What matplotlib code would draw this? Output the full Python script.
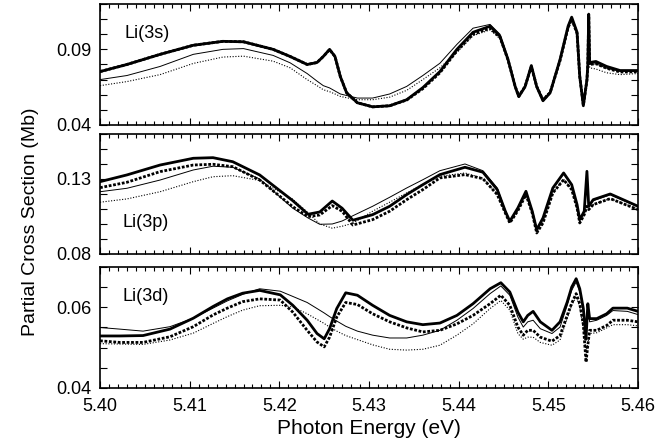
import numpy as np
import matplotlib.pyplot as plt
from matplotlib.ticker import MultipleLocator, FixedLocator

plt.rcParams['font.family'] = ['Liberation Sans', 'DejaVu Sans']

# ---- Li(3s) ----
e_3s = [5.4000, 5.4030, 5.4067, 5.4104, 5.4137, 5.4160, 5.4193, 5.4212, 5.4231, 5.4242,
        5.4249, 5.4256, 5.4262, 5.4268, 5.4275, 5.4287, 5.4304, 5.4323, 5.4342, 5.4360,
        5.4379, 5.4398, 5.4416, 5.4435, 5.4446, 5.4455, 5.4463, 5.4467, 5.4474, 5.4481,
        5.4487, 5.4494, 5.4502, 5.4513, 5.4522, 5.4526, 5.4532, 5.4535, 5.4539, 5.4543,
        5.4544, 5.4545, 5.4546, 5.4553, 5.4565, 5.4580, 5.4600]
s_thick = [0.0753, 0.0800, 0.0867, 0.0927, 0.0953, 0.0950, 0.0900, 0.0853, 0.0800, 0.0813,
           0.0853, 0.0900, 0.0853, 0.0720, 0.0613, 0.0547, 0.0520, 0.0527, 0.0567, 0.0647,
           0.0753, 0.0900, 0.1013, 0.1053, 0.0987, 0.0833, 0.0653, 0.0587, 0.0653, 0.0793,
           0.0653, 0.0560, 0.0613, 0.0833, 0.1053, 0.1113, 0.1013, 0.0720, 0.0527, 0.0700,
           0.0800, 0.1133, 0.0813, 0.0820, 0.0787, 0.0760, 0.0760]
s_thin = [0.0700, 0.0727, 0.0787, 0.0867, 0.0900, 0.0905, 0.0860, 0.0811, 0.0740, 0.0690,
          0.0660, 0.0645, 0.0625, 0.0605, 0.0595, 0.0578, 0.0578, 0.0605, 0.0655, 0.0727,
          0.0808, 0.0933, 0.1040, 0.1065, 0.1000, 0.0840, 0.0660, 0.0595, 0.0655, 0.0790,
          0.0658, 0.0567, 0.0618, 0.0830, 0.1045, 0.1105, 0.1008, 0.0725, 0.0535, 0.0700,
          0.0790, 0.1100, 0.0800, 0.0805, 0.0775, 0.0755, 0.0755]
s_thindot = [0.0660, 0.0687, 0.0733, 0.0807, 0.0849, 0.0855, 0.0822, 0.0778, 0.0700, 0.0660,
             0.0633, 0.0620, 0.0605, 0.0589, 0.0580, 0.0567, 0.0567, 0.0584, 0.0629, 0.0700,
             0.0778, 0.0880, 0.0990, 0.1029, 0.0970, 0.0825, 0.0660, 0.0600, 0.0655, 0.0775,
             0.0660, 0.0575, 0.0620, 0.0820, 0.1030, 0.1090, 0.1000, 0.0725, 0.0540, 0.0690,
             0.0775, 0.1080, 0.0778, 0.0770, 0.0745, 0.0733, 0.0740]
s_thickdot = [0.0753, 0.0800, 0.0867, 0.0927, 0.0953, 0.0950, 0.0900, 0.0853, 0.0800, 0.0813,
              0.0853, 0.0898, 0.0853, 0.0720, 0.0613, 0.0547, 0.0520, 0.0527, 0.0565, 0.0640,
              0.0745, 0.0890, 0.1000, 0.1040, 0.0980, 0.0830, 0.0655, 0.0590, 0.0655, 0.0785,
              0.0655, 0.0565, 0.0615, 0.0825, 0.1045, 0.1100, 0.1005, 0.0720, 0.0530, 0.0695,
              0.0795, 0.1120, 0.0800, 0.0805, 0.0775, 0.0750, 0.0752]

# ---- Li(3p) ----
e_3p = [5.4000, 5.4030, 5.4067, 5.4104, 5.4126, 5.4148, 5.4178, 5.4215, 5.4232, 5.4245,
        5.4259, 5.4270, 5.4282, 5.4304, 5.4323, 5.4342, 5.4360, 5.4379, 5.4407, 5.4427,
        5.4443, 5.4452, 5.4457, 5.4466, 5.4475, 5.4482, 5.4487, 5.4494, 5.4505, 5.4517,
        5.4526, 5.4532, 5.4535, 5.4540, 5.4543, 5.4545, 5.4550, 5.4569, 5.4600]
p_thick = [0.1282, 0.1327, 0.1393, 0.1438, 0.1442, 0.1415, 0.1327, 0.1155, 0.1065, 0.1080,
           0.1153, 0.1105, 0.1025, 0.1062, 0.1118, 0.1196, 0.1262, 0.1329, 0.1378, 0.1345,
           0.1229, 0.1085, 0.1018, 0.1107, 0.1218, 0.1085, 0.0962, 0.1040, 0.1240, 0.1340,
           0.1262, 0.1129, 0.1029, 0.1085, 0.1351, 0.1118, 0.1162, 0.1200, 0.1118]
p_thin = [0.1215, 0.1238, 0.1293, 0.1360, 0.1385, 0.1378, 0.1300, 0.1105, 0.1040, 0.0998,
          0.1000, 0.1020, 0.1055, 0.1118, 0.1178, 0.1240, 0.1295, 0.1355, 0.1400, 0.1355,
          0.1240, 0.1090, 0.1020, 0.1105, 0.1212, 0.1085, 0.0968, 0.1040, 0.1235, 0.1335,
          0.1258, 0.1125, 0.1030, 0.1080, 0.1300, 0.1115, 0.1155, 0.1195, 0.1115]
p_thindot = [0.1145, 0.1167, 0.1215, 0.1282, 0.1315, 0.1322, 0.1290, 0.1165, 0.1075, 0.1000,
             0.0972, 0.0985, 0.1005, 0.1085, 0.1145, 0.1207, 0.1265, 0.1318, 0.1340, 0.1305,
             0.1200, 0.1075, 0.1010, 0.1090, 0.1198, 0.1075, 0.0945, 0.1010, 0.1210, 0.1298,
             0.1230, 0.1108, 0.1010, 0.1062, 0.1120, 0.1098, 0.1130, 0.1170, 0.1098]
p_thickdot = [0.1242, 0.1278, 0.1349, 0.1393, 0.1398, 0.1382, 0.1293, 0.1115, 0.1049, 0.1060,
              0.1122, 0.1085, 0.0993, 0.1029, 0.1085, 0.1162, 0.1229, 0.1307, 0.1329, 0.1302,
              0.1196, 0.1073, 0.1007, 0.1089, 0.1196, 0.1073, 0.0940, 0.1007, 0.1207, 0.1295,
              0.1229, 0.1107, 0.1007, 0.1062, 0.1118, 0.1096, 0.1129, 0.1169, 0.1096]

# ---- Li(3d) ----
e_3d = [5.4000, 5.4022, 5.4048, 5.4078, 5.4104, 5.4126, 5.4142, 5.4159, 5.4178, 5.4201,
        5.4215, 5.4231, 5.4242, 5.4250, 5.4256, 5.4264, 5.4274, 5.4287, 5.4304, 5.4323,
        5.4342, 5.4360, 5.4379, 5.4398, 5.4416, 5.4435, 5.4447, 5.4457, 5.4466, 5.4472,
        5.4477, 5.4483, 5.4491, 5.4504, 5.4513, 5.4521, 5.4526, 5.4531, 5.4535, 5.4539,
        5.4542, 5.4544, 5.4546, 5.4554, 5.4565, 5.4572, 5.4588, 5.4600]
d_thick = [0.0529, 0.0529, 0.0530, 0.0546, 0.0573, 0.0602, 0.0621, 0.0635, 0.0642, 0.0631,
           0.0605, 0.0568, 0.0535, 0.0522, 0.0547, 0.0597, 0.0636, 0.0630, 0.0605, 0.0580,
           0.0564, 0.0557, 0.0561, 0.0580, 0.0609, 0.0646, 0.0661, 0.0638, 0.0588, 0.0564,
           0.0580, 0.0590, 0.0564, 0.0543, 0.0564, 0.0613, 0.0650, 0.0671, 0.0646, 0.0597,
           0.0522, 0.0609, 0.0572, 0.0572, 0.0584, 0.0598, 0.0598, 0.0590]
d_thin = [0.0550, 0.0546, 0.0541, 0.0552, 0.0573, 0.0598, 0.0616, 0.0632, 0.0646, 0.0640,
          0.0627, 0.0612, 0.0597, 0.0586, 0.0577, 0.0566, 0.0553, 0.0541, 0.0531, 0.0524,
          0.0524, 0.0531, 0.0543, 0.0568, 0.0597, 0.0634, 0.0653, 0.0630, 0.0576, 0.0551,
          0.0564, 0.0568, 0.0547, 0.0535, 0.0551, 0.0605, 0.0642, 0.0663, 0.0638, 0.0588,
          0.0518, 0.0601, 0.0564, 0.0568, 0.0580, 0.0592, 0.0590, 0.0582]
d_thindot = [0.0510, 0.0509, 0.0508, 0.0519, 0.0536, 0.0560, 0.0577, 0.0593, 0.0604, 0.0605,
             0.0601, 0.0584, 0.0570, 0.0560, 0.0551, 0.0541, 0.0530, 0.0520, 0.0507, 0.0496,
             0.0494, 0.0496, 0.0506, 0.0531, 0.0559, 0.0597, 0.0617, 0.0593, 0.0535, 0.0521,
             0.0526, 0.0526, 0.0513, 0.0506, 0.0519, 0.0572, 0.0605, 0.0626, 0.0601, 0.0547,
             0.0489, 0.0510, 0.0535, 0.0537, 0.0549, 0.0557, 0.0557, 0.0554]
d_thickdot = [0.0517, 0.0513, 0.0513, 0.0527, 0.0552, 0.0581, 0.0598, 0.0614, 0.0621, 0.0618,
              0.0588, 0.0543, 0.0514, 0.0502, 0.0526, 0.0576, 0.0612, 0.0607, 0.0584, 0.0564,
              0.0549, 0.0539, 0.0543, 0.0559, 0.0580, 0.0609, 0.0630, 0.0605, 0.0551, 0.0531,
              0.0543, 0.0543, 0.0526, 0.0516, 0.0530, 0.0580, 0.0610, 0.0634, 0.0609, 0.0557,
              0.0464, 0.0506, 0.0543, 0.0543, 0.0555, 0.0568, 0.0568, 0.0564]

panels = [
    ("Li(3s)", e_3s, s_thick, s_thin, s_thindot, s_thickdot, (0.04, 0.12), 0.01, [0.04, 0.09], (0.045, 0.76)),
    ("Li(3p)", e_3p, p_thick, p_thin, p_thindot, p_thickdot, (0.08, 0.16), 0.01, [0.08, 0.13], (0.042, 0.26)),
    ("Li(3d)", e_3d, d_thick, d_thin, d_thindot, d_thickdot, (0.04, 0.07), 0.005, [0.04, 0.06], (0.042, 0.76)),
]

fig = plt.figure(figsize=(6.70, 4.47), dpi=100)
boxes = [[0.1493, 0.7204, 0.803, 0.2707],
         [0.1493, 0.4318, 0.803, 0.2685],
         [0.1493, 0.1320, 0.803, 0.2707]]

for i, (name, e, thick, thin, thindot, thickdot, ylim, ystep, ylab, tpos) in enumerate(panels):
    ax = fig.add_axes(boxes[i])
    ax.plot(e, thin, color="black", lw=0.7, solid_joinstyle="round")
    ax.plot(e, thindot, color="black", lw=0.8, ls=(0, (1, 1.5)))
    ax.plot(e, thickdot, color="black", lw=2.0, ls=(0, (1, 0.6)))
    ax.plot(e, thick, color="black", lw=2.0, solid_joinstyle="round")
    ax.set_xlim(5.40, 5.46)
    ax.set_ylim(*ylim)
    yt = np.round(np.arange(ylim[0], ylim[1] + 1e-9, ystep), 4)
    ax.yaxis.set_major_locator(FixedLocator(yt))
    ax.set_yticklabels(["%.2f" % v if any(abs(v - l) < 1e-9 for l in ylab) else "" for v in yt])
    ax.xaxis.set_major_locator(MultipleLocator(0.01))
    ax.xaxis.set_minor_locator(MultipleLocator(0.001))
    ax.tick_params(which="both", direction="in", top=True, right=True, labelsize=13, width=0.8)
    ax.tick_params(which="major", length=5)
    ax.tick_params(which="minor", length=3)
    ax.tick_params(axis="x", pad=7)
    ax.tick_params(axis="y", pad=6)
    for sp in ax.spines.values():
        sp.set_linewidth(1.2)
    ax.text(tpos[0], tpos[1], name, transform=ax.transAxes, fontsize=13, va="center")
    if i < 2:
        ax.set_xticklabels([])
    else:
        ax.xaxis.set_major_formatter(plt.FormatStrFormatter("%.2f"))
        ax.set_xlabel("Photon Energy (eV)", fontsize=15, labelpad=3)

fig.text(0.045, 0.505, "Partial Cross Section (Mb)", rotation=90, fontsize=14,
         va="center", ha="center")

fig.savefig("out.png", dpi=100)
